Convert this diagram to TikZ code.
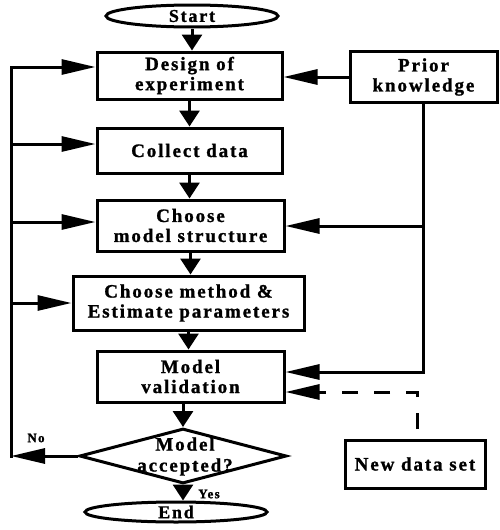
\documentclass[tikz,border=0pt]{standalone}
\usepackage{fontspec}
\setmainfont{Liberation Serif}
\newfontfamily\bxfont{Liberation Serif}[LetterSpace=10,FakeBold=1.2]
\usetikzlibrary{arrows.meta,shapes.geometric}
\begin{document}
\begin{tikzpicture}[x=1pt,y=-1pt,
  ln/.style={line width=3pt},
  box/.style={draw,ln,rectangle,inner sep=0pt,align=center,font=\bxfont\bfseries\fontsize{19}{20}\selectfont},
  term/.style={draw,ln,ellipse,inner sep=0pt,font=\bxfont\bfseries\fontsize{18}{18}\selectfont},
  dia/.style={draw,ln,diamond,inner sep=0pt},
  dtext/.style={align=center,inner sep=0pt,font=\bxfont\bfseries\fontsize{19}{21}\selectfont},
  harr/.style={ln,-{Triangle[length=34pt,width=15pt]}},
  varr/.style={ln,-{Triangle[length=16pt,width=20pt]}},
  dashline/.style={ln,dash pattern=on 16pt off 16pt},
  lbl/.style={inner sep=0pt,font=\bxfont\bfseries\fontsize{13}{14}\selectfont}
]
\useasboundingbox (0,0) rectangle (499,530);
% nodes
\node[term,minimum width=172pt,minimum height=22pt] (start) at (192,16) {Start};
\node[box,minimum width=185pt,minimum height=47pt] (design) at (189.5,75.5) {Design of\\experiment};
\node[box,minimum width=185pt,minimum height=45pt] (collect) at (189.5,150.5) {Collect data};
\node[box,minimum width=187pt,minimum height=51pt] (cms) at (190.5,225.5) {Choose\\model structure};
\node[box,minimum width=231pt,minimum height=54pt] (method) at (188.5,303) {Choose method \&\\Estimate parameters};
\node[box,minimum width=187pt,minimum height=51pt] (val) at (190.5,376.5) {Model\\validation};
\node[dia,minimum width=207pt,minimum height=55pt] (dec) at (183,456) {};
\node[dtext] (dectext) at (185,456.5) {Model\\accepted?};
\node[term,minimum width=182pt,minimum height=20pt] (end) at (176,512) {End};
\node[box,minimum width=147pt,minimum height=51pt] (prior) at (423.5,77) {Prior\\knowledge};
\node[box,minimum width=140pt,minimum height=48pt] (newdata) at (415,464) {New data set};
\node[lbl] (no) at (36,438) {No};
\node[lbl] (yes) at (209,494) {Yes};
% coordinates
\coordinate (lt) at (11,67);
\coordinate (l2) at (11,144);
\coordinate (l3) at (11,222);
\coordinate (l4) at (11,303);
\coordinate (lb) at (11,456);
\coordinate (r2) at (424,226);
\coordinate (r3) at (424,372);
\coordinate (d1) at (417,429);
\coordinate (d2) at (417,392);
% main column
\draw[varr] (start.south) -- (start.south |- design.north);
\draw[varr] (design.south) -- (design.south |- collect.north);
\draw[varr] (collect.south) -- (collect.south |- cms.north);
\draw[varr] (cms.south) -- (cms.south |- method.north);
\draw[varr] (method.south) -- (method.south |- val.north);
\draw[varr] (dec.north |- val.south) -- (dec.north);
\draw[varr] (dec.south) -- (dec.south |- end.north);
% feedback (No)
\draw[harr] (dec.west) -- (lb);
\draw[ln,line cap=rect] (lb) -- (lt);
\draw[harr] (lt) -- (design.west |- lt);
\draw[harr] (l2) -- (collect.west |- l2);
\draw[harr] (l3) -- (cms.west |- l3);
\draw[harr] (l4) -- (method.west |- l4);
% prior knowledge
\draw[harr] (prior.west) -- (design.east |- prior.west);
\draw[harr] (prior.south) |- (val.east |- r3);
\draw[harr] (r2) -- (cms.east |- r2);
% new data set
\draw[harr,dashline] (d1) -- (d2) -- (val.east |- d2);
\end{tikzpicture}
\end{document}
